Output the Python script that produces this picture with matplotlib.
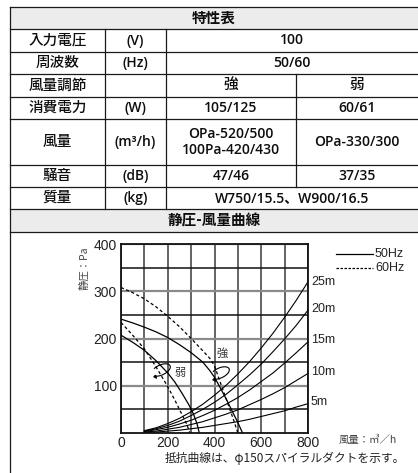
import matplotlib
matplotlib.use("Agg")
import matplotlib.pyplot as plt
from matplotlib.patches import Rectangle, Arc, FancyArrowPatch

plt.rcParams['font.family'] = ['Noto Sans CJK JP', 'DejaVu Sans']
num_font = ['Liberation Sans', 'Noto Sans CJK JP']
tab_font = ['Open Sans', 'Noto Sans CJK JP']

# ---- spec table ----
row_labels = ["入力電圧", "周波数", "風量調節", "消費電力", "風量", "騒音", "質量"]
row_units = ["(V)", "(Hz)", "", "(W)", "(m³/h)", "(dB)", "(kg)"]
strong_vals = ["100", "50/60", "強", "105/125", "OPa-520/500\n100Pa-420/430", "47/46",
               "W750/15.5、W900/16.5"]
weak_vals = [None, None, "弱", "60/61", "OPa-330/300", "37/35", None]

# ---- fan curves (air flow m3/h, static pressure Pa) ----
strong50_q = [0, 50, 100, 150, 200, 250, 300, 350, 380, 400, 420, 450, 480, 500, 520]
strong50_p = [241, 233, 224, 214, 202, 187, 170, 150, 132, 118, 100, 72, 42, 22, 0]
strong60_q = [0, 50, 100, 150, 200, 250, 300, 350, 380, 400, 430, 460, 480, 500]
strong60_p = [308, 297, 284, 267, 247, 225, 200, 174, 158, 142, 100, 58, 30, 0]
weak50_q = [0, 50, 100, 150, 200, 230, 260, 290, 310, 325, 335]
weak50_p = [207, 192, 175, 153, 127, 108, 85, 60, 40, 20, 0]
weak60_q = [0, 50, 100, 150, 200, 230, 260, 280, 295]
weak60_p = [234, 207, 178, 140, 98, 70, 40, 20, 0]

# ---- duct resistance curves (phi150 spiral duct) ----
duct_q = [100, 150, 200, 250, 300, 350, 400, 450, 500, 550, 600, 650, 700, 750, 800]
duct_p = {
    "25m": [5, 11, 20, 31, 45, 61, 80, 101, 125, 151, 180, 211, 245, 281, 320],
    "20m": [4, 9, 16, 25, 37, 50, 65, 82, 102, 123, 146, 172, 199, 228, 260],
    "15m": [3, 7, 12, 19, 27, 37, 48, 61, 75, 91, 109, 127, 148, 170, 193],
    "10m": [2, 4, 8, 12, 18, 24, 32, 40, 49, 60, 71, 83, 96, 111, 126],
    "5m": [1, 2, 4, 6, 9, 12, 16, 20, 24, 29, 35, 41, 47, 55, 62],
}

W, H = 418, 473
fig = plt.figure(figsize=(W / 100, H / 100), dpi=100)

# chart axes, placed in pixel units
ax = fig.add_axes([121 / W, (H - 433) / H, 187 / W, 189 / H])
ax.set_xlim(0, 800)
ax.set_ylim(0, 400)
ax.set_xticks([0, 200, 400, 600, 800])
ax.set_xticks([100, 300, 500, 700], minor=True)
ax.set_yticks([100, 200, 300, 400])
ax.set_yticks([50, 150, 250, 350], minor=True)
ax.tick_params(which='both', length=0, labelsize=10, labelcolor='#222222')
ax.tick_params(axis='x', pad=2)
ax.tick_params(axis='y', pad=3)
for lab in ax.get_xticklabels() + ax.get_yticklabels():
    lab.set_family(num_font)
ax.xaxis.grid(True, which='both', color='#3a3a3a', lw=1.1)
ax.yaxis.grid(True, which='minor', color='#111111', lw=1.1)
ax.yaxis.grid(True, which='major', color='#8a8a8a', lw=1.6)
ax.set_axisbelow(True)
for s in ax.spines.values():
    s.set_linewidth(1.3)
    s.set_color('#111111')

ax.plot(strong50_q, strong50_p, color='black', lw=0.9)
ax.plot(weak50_q, weak50_p, color='black', lw=0.9)
ax.plot(strong60_q, strong60_p, color='black', lw=0.9, ls=(0, (2.5, 2)))
ax.plot(weak60_q, weak60_p, color='black', lw=0.9, ls=(0, (2.5, 2)))
for name, p in duct_p.items():
    ax.plot(duct_q, p, color='black', lw=0.8, clip_on=False)

# overlay in pixel coords for the table and loose texts
ov = fig.add_axes([0, 0, 1, 1])
ov.set_xlim(0, W)
ov.set_ylim(H, 0)
ov.set_axis_off()
ov.patch.set_visible(False)

x_left, c1, c2, c3, x_right = 10, 105, 166, 296, W + 2
row_y = [7, 29, 52, 74, 97, 119, 165, 187, 209, 232]
lc = '#1a1a1a'
lw = 0.9
fs = 10.5
vfs = 10
tc = '#0d0d0d'

# gray header bands
ov.add_patch(Rectangle((x_left, row_y[0]), x_right - x_left, row_y[1] - row_y[0],
                       facecolor='#ececec', edgecolor='none'))
ov.add_patch(Rectangle((x_left, row_y[8]), x_right - x_left, row_y[9] - row_y[8],
                       facecolor='#ececec', edgecolor='none'))
for y in row_y:
    ov.plot([x_left, x_right], [y, y], color=lc, lw=lw)
ov.plot([x_left, x_left], [row_y[0], H], color=lc, lw=lw)
ov.plot([c1, c1], [row_y[1], row_y[8]], color=lc, lw=lw)
ov.plot([c2, c2], [row_y[1], row_y[8]], color=lc, lw=lw)
ov.plot([c3, c3], [row_y[3], row_y[7]], color=lc, lw=lw)

ov.text((x_left + W) / 2, (row_y[0] + row_y[1]) / 2, "特性表", ha='center', va='center',
        fontsize=fs, fontweight='bold', color=tc)
ov.text((x_left + W) / 2, (row_y[8] + row_y[9]) / 2, "静圧-風量曲線", ha='center', va='center',
        fontsize=fs, fontweight='bold', color=tc)

for i, lab in enumerate(row_labels):
    yc = (row_y[i + 1] + row_y[i + 2]) / 2
    # the 強/弱 row is CJK only, keep it at the label weight
    vw = 'medium' if lab == "風量調節" else 'semibold'
    vsize = fs if lab == "風量調節" else vfs
    ov.text((x_left + c1) / 2, yc, lab, ha='center', va='center', fontsize=fs,
            fontweight='medium', color=tc)
    ov.text((c1 + c2) / 2, yc, row_units[i], ha='center', va='center', fontsize=vfs,
            fontweight='semibold', color=tc, family=tab_font)
    if weak_vals[i] is None:
        ov.text((c2 + W) / 2, yc, strong_vals[i], ha='center', va='center', fontsize=vsize,
                fontweight=vw, color=tc, family=tab_font)
    else:
        ov.text((c2 + c3) / 2, yc, strong_vals[i], ha='center', va='center', fontsize=vsize,
                fontweight=vw, color=tc, linespacing=1.25, family=tab_font)
        ov.text((c3 + W) / 2, yc, weak_vals[i], ha='center', va='center', fontsize=vsize,
                fontweight=vw, color=tc, family=tab_font)

# chart labels
ov.text(84, 268, "静圧：Pa", rotation=90, ha='center', va='center', fontsize=7.5, color='#444444')
ov.text(368, 440, "風量：㎥／h", ha='center', va='center', fontsize=7.5, color='#444444')
ov.text(405, 458, "抵抗曲線は、φ150スパイラルダクトを示す。", ha='right', va='center',
        fontsize=8.5, color='#222222')

# legend
ov.plot([336, 373], [254, 254], color='black', lw=0.9)
ov.plot([336, 373], [268, 268], color='black', lw=0.9, ls=(0, (2, 1.2)))
ov.text(375, 254, "50Hz", ha='left', va='center', fontsize=9, color='#222222', family=num_font)
ov.text(375, 268, "60Hz", ha='left', va='center', fontsize=9, color='#222222', family=num_font)

# duct length labels
for name, y in zip(duct_p.keys(), [282, 309, 340, 372, 402]):
    ov.text(311, y, name, ha='left', va='center', fontsize=9, color='#222222', family=num_font)

# mode labels with rotation arrows
ov.text(222, 354, "強", ha='center', va='center', fontsize=8, color='#333333')
ov.text(180, 373, "弱", ha='center', va='center', fontsize=8, color='#333333')
for cx, cy in [(161, 370), (220, 373)]:
    ov.add_patch(Arc((cx, cy), 20, 10, angle=-25, theta1=215, theta2=165,
                     color='black', lw=0.8))
    ov.add_patch(FancyArrowPatch((cx - 7, cy + 5), (cx - 4, cy + 9), arrowstyle='-|>',
                                 mutation_scale=5, color='black', lw=0.6))

fig.savefig("out.png", dpi=100)
